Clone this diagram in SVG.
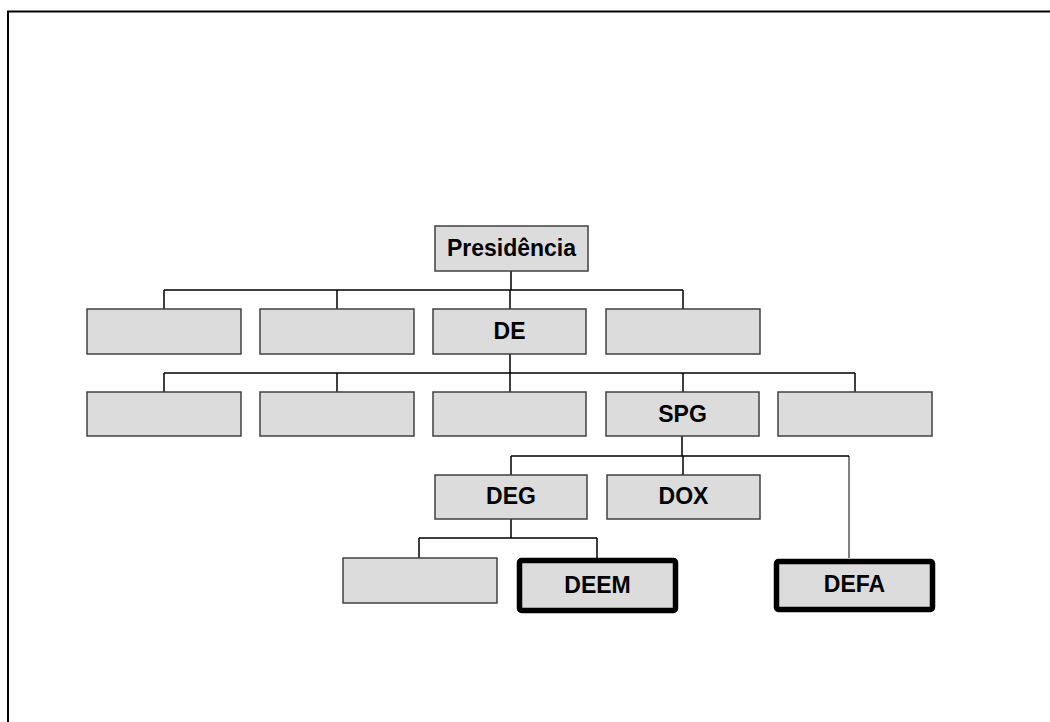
<svg xmlns="http://www.w3.org/2000/svg" width="1050" height="722" viewBox="0 0 1050 722">
<style>
.box{fill:#dcdcdc;stroke:#404040;stroke-width:1.5}
.bold{fill:#dcdcdc;stroke:#000;stroke-width:5.5}
.ln{fill:none;stroke:#000;stroke-width:1.5}
.thin{fill:none;stroke:#000;stroke-width:1}
text{font-family:"Liberation Sans",Arial,sans-serif;font-weight:bold;font-size:23px;fill:#000;text-anchor:middle}
</style>
<rect width="1050" height="722" fill="#fff"/>
<path d="M8,722 V11.5 H1050" fill="none" stroke="#000" stroke-width="2"/>
<g id="connectors">
<path class="ln" d="M511,271 V290 M164,290 H683 M164,290 V309 M337,290 V309 M510,290 V309 M683,290 V309"/>
<path class="ln" d="M510,354 V373 M164,373 H855 M164,373 V392 M337,373 V392 M510,373 V392 M683,373 V392 M855,373 V392"/>
<path class="ln" d="M682,436 V456 M511,456 H849 M511,456 V475 M683,456 V475"/>
<path class="thin" d="M849,456 V558"/>
<path class="ln" d="M511,519 V538 M419,538 H597 M419,538 V558 M597,538 V558"/>
</g>
<g id="presidencia"><rect class="box" x="435" y="226" width="153" height="45"/><text x="511.5" y="255.5">Presidência</text></g>
<g id="n1a"><rect class="box" x="87" y="309" width="154" height="45"/></g>
<g id="n1b"><rect class="box" x="260" y="309" width="154" height="45"/></g>
<g id="de"><rect class="box" x="433" y="309" width="153" height="45"/><text x="509.5" y="339">DE</text></g>
<g id="n1d"><rect class="box" x="606" y="309" width="154" height="45"/></g>
<g id="n2a"><rect class="box" x="87" y="392" width="154" height="44"/></g>
<g id="n2b"><rect class="box" x="260" y="392" width="154" height="44"/></g>
<g id="n2c"><rect class="box" x="433" y="392" width="153" height="44"/></g>
<g id="spg"><rect class="box" x="606" y="392" width="153" height="44"/><text x="682.5" y="422">SPG</text></g>
<g id="n2e"><rect class="box" x="778" y="392" width="154" height="44"/></g>
<g id="deg"><rect class="box" x="435" y="475" width="152" height="44"/><text x="511" y="504">DEG</text></g>
<g id="dox"><rect class="box" x="607" y="475" width="153" height="44"/><text x="683.5" y="504">DOX</text></g>
<g id="n4a"><rect class="box" x="343" y="558" width="154" height="45"/></g>
<g id="deem"><rect class="bold" x="519.5" y="560.5" width="156" height="50" rx="2"/><text x="597.5" y="593">DEEM</text></g>
<g id="defa"><rect class="bold" x="776.5" y="561.5" width="156" height="48" rx="2"/><text x="854.5" y="592">DEFA</text></g>
</svg>
